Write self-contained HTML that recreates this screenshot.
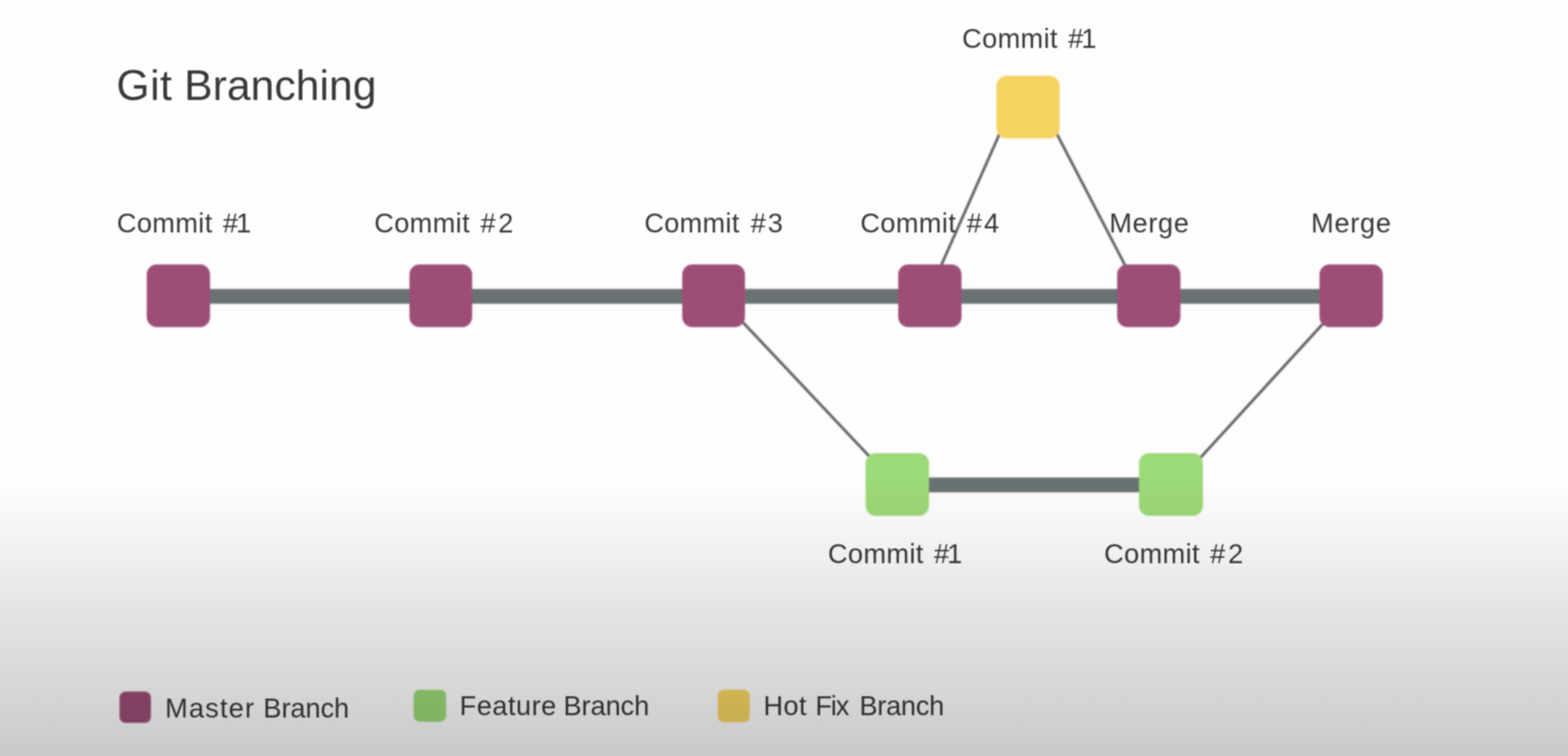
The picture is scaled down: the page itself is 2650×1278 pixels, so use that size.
<!DOCTYPE html>
<html lang="en">
<head>
<meta charset="utf-8">
<title>Git Branching</title>
<style>
  html, body { margin:0; padding:0; width:2650px; height:1278px; }
  body { width:2650px; height:1278px; overflow:hidden; background:#fefefe;
         font-family:"Liberation Sans", sans-serif; color:#383838; }
  .stage { position:relative; width:2650px; height:1278px; overflow:hidden; background:#fefefe; }
  .diagram, .labels { position:absolute; left:0; top:0; width:2650px; height:1278px; }
  .diagram { filter:blur(1.7px); }
  .labels { filter:blur(1.0px); }
  .wires { position:absolute; left:0; top:0; width:2650px; height:1278px; }
  .node { position:absolute; width:106.5px; height:106.5px; border-radius:17px; }
  .master { background:#9c4e77; }
  .feature { background:#9cd977; }
  .hotfix { background:#f7d461; }
  .t { position:absolute; margin:0; white-space:pre; line-height:1; font-weight:400; }
  .swatch { position:absolute; width:54px; height:54px; border-radius:10px; }
  .shade { position:absolute; left:0; top:0; width:2650px; height:1278px; pointer-events:none;
    background:linear-gradient(to bottom,
      rgba(0,0,0,0) 0px, rgba(0,0,0,0) 812px,
      rgba(0,0,0,0.006) 824px,
      rgba(0,0,0,0.020) 846px,
      rgba(0,0,0,0.028) 873px,
      rgba(0,0,0,0.051) 927px,
      rgba(0,0,0,0.078) 982px,
      rgba(0,0,0,0.106) 1037px,
      rgba(0,0,0,0.125) 1091px,
      rgba(0,0,0,0.149) 1146px,
      rgba(0,0,0,0.173) 1200px,
      rgba(0,0,0,0.196) 1255px,
      rgba(0,0,0,0.208) 1278px); }
</style>
</head>
<body>
<main class="stage">
<section class="diagram">

<svg class="wires" xmlns="http://www.w3.org/2000/svg" width="2650" height="1278" viewBox="0 0 2650 1278">
<g stroke="#606060" stroke-width="4.6" stroke-linecap="butt" fill="none">
<line x1="1691.6" y1="221.1" x2="1589.1" y2="452.1"/>
<line x1="1784.4" y1="223.0" x2="1903.7" y2="452.8"/>
<line x1="1252.4" y1="541.6" x2="1473.4" y2="775.9"/>
<line x1="2024.7" y1="778.2" x2="2239.0" y2="543.9"/>
</g>
<g stroke="#6a7173" stroke-width="25" fill="none">
<line x1="301.6" y1="501.1" x2="2283.4" y2="501.1"/>
<line x1="1516.0" y1="819.75" x2="1978.0" y2="819.75"/>
</g></svg>
<div class="node master" style="left:248.40px;top:447.40px;width:106.4px;height:106.0px"></div>
<div class="node master" style="left:691.80px;top:447.40px;width:106.4px;height:106.0px"></div>
<div class="node master" style="left:1152.50px;top:447.40px;width:106.4px;height:106.0px"></div>
<div class="node master" style="left:1518.40px;top:447.40px;width:106.4px;height:106.0px"></div>
<div class="node master" style="left:1888.30px;top:447.40px;width:106.4px;height:106.0px"></div>
<div class="node master" style="left:2230.20px;top:447.40px;width:106.4px;height:106.0px"></div>
<div class="node feature" style="left:1463.00px;top:766.40px;width:107.2px;height:105.8px"></div>
<div class="node feature" style="left:1924.60px;top:766.40px;width:108.0px;height:105.8px"></div>
<div class="node hotfix" style="left:1684.30px;top:127.50px;width:107.1px;height:106.7px"></div>
<div class="swatch master" style="left:201.7px;top:1169.2px;width:53.4px;height:53px"></div>
<div class="swatch feature" style="left:699.0px;top:1165.8px;width:54.6px;height:54.6px"></div>
<div class="swatch hotfix" style="left:1212.8px;top:1165.5px;width:54.5px;height:55px"></div>
</section>
<section class="labels">
<h1 class="t title" style="left:196.86px;top:108.05px;font-size:72px"><span style="letter-spacing:0.78px">Git</span> <span style="letter-spacing:0.09px;margin-left:0.06px">Branching</span></h1>
<div class="t lbl" style="left:197.39px;top:354.36px;font-size:46px"><span style="letter-spacing:0.57px">Commit</span> <span style="letter-spacing:-3.38px;margin-left:4.73px">#1</span></div>
<div class="t lbl" style="left:632.39px;top:354.36px;font-size:46px"><span style="letter-spacing:0.57px">Commit</span> <span style="letter-spacing:4.5px;margin-left:4.98px">#2</span></div>
<div class="t lbl" style="left:1088.89px;top:354.36px;font-size:46px"><span style="letter-spacing:0.42px">Commit</span> <span style="letter-spacing:3.24px;margin-left:6.14px">#3</span></div>
<div class="t lbl" style="left:1453.89px;top:354.36px;font-size:46px"><span style="letter-spacing:0.62px">Commit</span> <span style="letter-spacing:3.53px;margin-left:4.98px">#4</span></div>
<div class="t lbl" style="left:1874.64px;top:354.36px;font-size:46px"><span style="letter-spacing:1.05px">Merge</span></div>
<div class="t lbl" style="left:2215.84px;top:354.36px;font-size:46px"><span style="letter-spacing:1.13px">Merge</span></div>
<div class="t lbl" style="left:1625.99px;top:41.86px;font-size:46px"><span style="letter-spacing:0.57px">Commit</span> <span style="letter-spacing:-3.38px;margin-left:4.73px">#1</span></div>
<div class="t lbl" style="left:1399.19px;top:912.76px;font-size:46px"><span style="letter-spacing:0.57px">Commit</span> <span style="letter-spacing:-3.38px;margin-left:4.73px">#1</span></div>
<div class="t lbl" style="left:1865.99px;top:912.76px;font-size:46px"><span style="letter-spacing:0.57px">Commit</span> <span style="letter-spacing:4.5px;margin-left:4.73px">#2</span></div>
<span class="t leg" style="left:279.04px;top:1174.06px;font-size:46px"><span style="letter-spacing:1.95px">Master</span> <span style="letter-spacing:-0.16px;margin-left:1.0px">Branch</span></span>
<span class="t leg" style="left:776.74px;top:1170.46px;font-size:46px"><span style="letter-spacing:0.82px">Feature</span> <span style="letter-spacing:-0.16px;margin-left:-1.52px">Branch</span></span>
<span class="t leg" style="left:1290.34px;top:1170.46px;font-size:46px"><span style="letter-spacing:0.57px">Hot</span> <span style="letter-spacing:-1.86px;margin-left:1.48px">Fix</span> <span style="letter-spacing:-0.47px;margin-left:6.0px">Branch</span></span>
</section>
<div class="shade"></div>
</main>
</body>
</html>
